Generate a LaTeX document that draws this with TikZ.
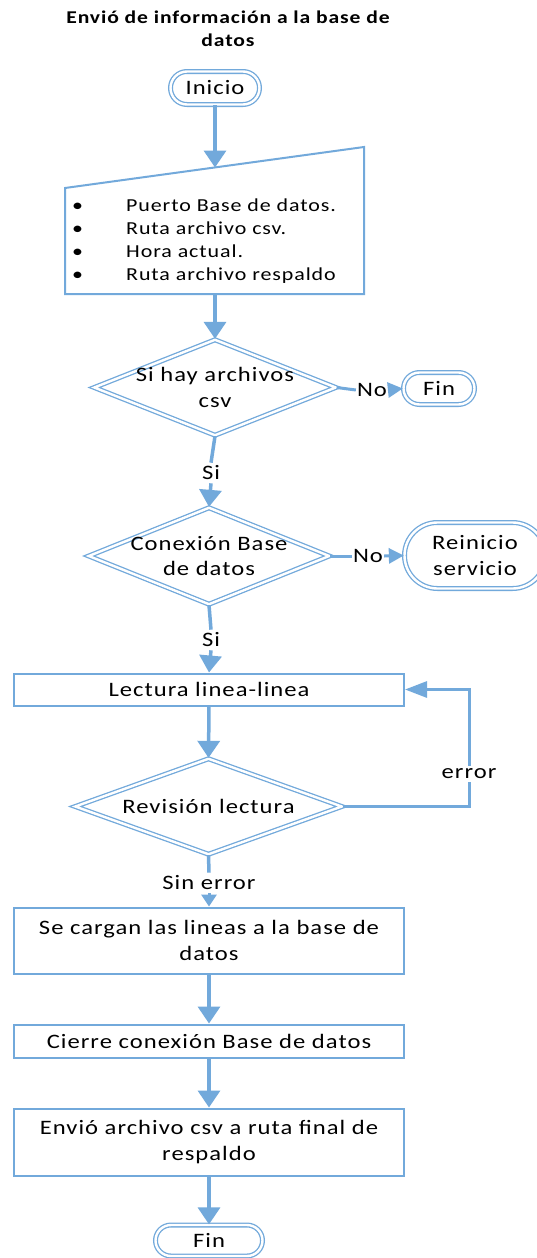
\documentclass[tikz,border=0pt]{standalone}
\usepackage{fontspec}
\setmainfont{Carlito}[FakeStretch=1.2, LetterSpace=5]
\usetikzlibrary{arrows.meta,shapes.geometric}
\definecolor{flow}{RGB}{114,169,219}
\newcommand\txtsize{\fontsize{20.5}{25.5}\selectfont}
\newcommand\listsize{\fontsize{18.3}{23}\selectfont}
\newcommand\headsize{\fontsize{18}{23}\selectfont}

\begin{document}
\begin{tikzpicture}[x=1pt,y=-1pt,
  font=\txtsize,
  term/.style={rectangle, draw=flow, double=white, double distance=2.4pt,
    line width=1.3pt, inner sep=0pt},
  dec/.style={diamond, draw=flow, double=white, double distance=2.4pt,
    line width=1.3pt, inner sep=0pt},
  proc/.style={rectangle, draw=flow, line width=2pt, inner sep=0pt,
    minimum width=390pt, align=center},
  lbl/.style={inner sep=3pt},
  lblh/.style={inner sep=1pt},
  flowline/.style={draw=flow, line width=3.5pt},
  bigarrow/.style={flowline, -{Triangle[width=22pt,length=17pt]}},
  midarrow/.style={draw=flow, line width=3pt, -{Triangle[width=16pt,length=22pt]}},
  smallarrow/.style={draw=flow, line width=3pt, -{Triangle[width=15pt,length=15pt]}},
  tinyarrow/.style={draw=flow, line width=3pt, -{Triangle[width=15pt,length=12pt]}}
]
\path[use as bounding box, fill=white] (0,0) rectangle (537,1258);

% title
\node[font=\headsize\bfseries, align=center, inner sep=0pt] (titulo) at (228,29)
  {Envió de información a la base de\\datos};

% start
\node[term, rounded corners=16.5pt, minimum width=89pt, minimum height=33pt]
  (inicio) at (215,88) {Inicio};

% manual input block
\coordinate (mi-tl) at (65,188);
\coordinate (mi-tr) at (364,147);
\coordinate (mi-br) at (364,294);
\coordinate (mi-bl) at (65,294);
\draw[flow, line width=2pt] (mi-tl) -- (mi-tr) -- (mi-br) -- (mi-bl) -- cycle;
\coordinate (mitop) at (215,167.5);
\coordinate (mibot) at (215,294);
\node[anchor=west, inner sep=0pt, align=left, font=\listsize] (lista) at (72,241.5)
  {\makebox[54pt][l]{\textbullet}Puerto Base de datos.\\
   \makebox[54pt][l]{\textbullet}Ruta archivo csv.\\
   \makebox[54pt][l]{\textbullet}Hora actual.\\
   \makebox[54pt][l]{\textbullet}Ruta archivo respaldo};

% decision: files present
\node[dec, minimum width=242pt, minimum height=96pt] (d1) at (215,387.5) {};
\node[align=center, inner sep=0pt] (d1t) at (d1.center) {Si hay archivos\\csv};
\node[lblh] (no1) at (372,390) {No};
\node[term, rounded corners=16pt, minimum width=71pt, minimum height=32pt]
  (fin1) at (439,388.5) {Fin};
\node[lbl] (si1) at (211,473) {Si};

% decision: database connection
\node[dec, minimum width=241pt, minimum height=97pt] (d2) at (209,556) {};
\node[align=center, inner sep=0pt] (d2t) at (d2.center) {Conexión Base\\de datos};
\node[lblh] (no2) at (368,556) {No};
\node[term, rounded corners=33pt, minimum width=141pt, minimum height=66pt,
  align=center] (reinicio) at (475,555.5) {Reinicio\\servicio};
\node[lbl] (si2) at (211,640) {Si};

% reading loop
\node[proc, minimum height=32pt] (lectura) at (209,689.5) {Lectura linea-linea};
\node[dec, minimum width=267pt, minimum height=96pt] (d3) at (208.5,806.5) {};
\node[inner sep=0pt] (d3t) at (d3.center) {Revisión lectura};
\node[lbl] (err) at (469,774) {error};
\node[lbl] (sinerr) at (209,883) {Sin error};

% processing steps
\node[proc, minimum height=66pt] (carga) at (209,940.5)
  {Se cargan las lineas a la base de\\datos};
\node[proc, minimum height=33pt] (cierre) at (209,1041)
  {Cierre conexión Base de datos};
\node[proc, minimum height=67pt] (envio) at (209,1142)
  {Envió archivo csv a ruta final de\\respaldo};
\node[term, rounded corners=15.5pt, minimum width=107pt, minimum height=31pt]
  (fin2) at (209,1240.5) {Fin};

% connectors
\draw[bigarrow] (inicio.south) -- (mitop);
\draw[bigarrow] (mibot) -- (d1.north);
\draw[flowline, line width=3pt] (d1.east) -- (no1.west);
\draw[smallarrow] (no1.east) -- (fin1.west);
\draw[flowline] (d1.south) -- (si1.north);
\draw[bigarrow] (si1.south) -- (d2.north);
\draw[flowline, line width=3pt] (d2.east) -- (no2.west);
\draw[smallarrow] (no2.east) -- (reinicio.west);
\draw[flowline] (d2.south) -- (si2.north);
\draw[bigarrow] (si2.south) -- (lectura.north);
\draw[bigarrow] (lectura.south) -- (d3.north);
\draw[flowline, line width=3pt] (d3.east) -| (err.south);
\draw[midarrow] (err.north) |- (lectura.east);
\draw[flowline] (d3.south) -- (sinerr.north);
\draw[tinyarrow] (sinerr.south) -- (carga.north);
\draw[bigarrow] (carga.south) -- (cierre.north);
\draw[bigarrow] (cierre.south) -- (envio.north);
\draw[bigarrow] (envio.south) -- (fin2.north);
\end{tikzpicture}
\end{document}
